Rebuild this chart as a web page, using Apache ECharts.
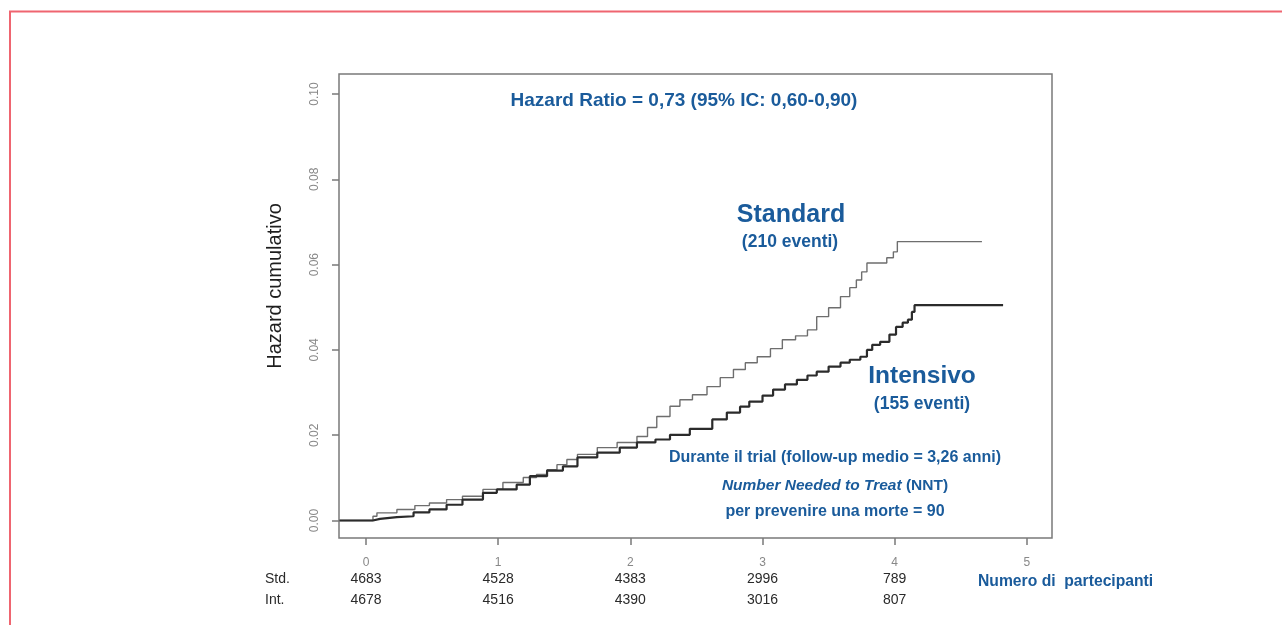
<!DOCTYPE html>
<html>
<head>
<meta charset="utf-8">
<script src="https://cdn.jsdelivr.net/npm/echarts@6/dist/echarts.min.js"></script>
<style>
html,body{margin:0;padding:0;background:#fff;}
#c{width:1282px;height:625px;}
</style>
</head>
<body>
<div id="c"></div>
<script>
// ---- data ----
const xTicks = [0, 1, 2, 3, 4, 5];
const yTicks = [0, 0.02, 0.04, 0.06, 0.08, 0.10];
const riskTimes = [0, 1, 2, 3, 4];
const stdAtRisk = [4683, 4528, 4383, 2996, 789];
const intAtRisk = [4678, 4516, 4390, 3016, 807];

const stdTime = [-0.2, 0.053, 0.083, 0.234, 0.37, 0.48, 0.61, 0.73, 0.885, 1.036, 1.19, 1.29, 1.37, 1.445, 1.52, 1.6, 1.75, 1.9, 2.05, 2.13, 2.2, 2.3, 2.375, 2.47, 2.58, 2.68, 2.78, 2.87, 2.96, 3.06, 3.15, 3.25, 3.34, 3.41, 3.5, 3.59, 3.66, 3.71, 3.75, 3.79, 3.94, 3.99, 4.02, 4.66];
const stdHaz  = [0, 0.0010, 0.0018, 0.0026, 0.0035, 0.0041, 0.0049, 0.0057, 0.0073, 0.0089, 0.0101, 0.0108, 0.0119, 0.0131, 0.0143, 0.0155, 0.0171, 0.0183, 0.0197, 0.0218, 0.0244, 0.0268, 0.0283, 0.0295, 0.0314, 0.0335, 0.0354, 0.0370, 0.0384, 0.0403, 0.0424, 0.0433, 0.0447, 0.0478, 0.0499, 0.0525, 0.0546, 0.0564, 0.0583, 0.0604, 0.0616, 0.0630, 0.0654, 0.0654];

const intTime = [-0.2, 0.053, 0.106, 0.234, 0.36, 0.48, 0.61, 0.73, 0.885, 0.99, 1.14, 1.24, 1.37, 1.49, 1.6, 1.75, 1.92, 2.05, 2.19, 2.3, 2.45, 2.62, 2.73, 2.83, 2.9, 3.0, 3.08, 3.17, 3.26, 3.34, 3.41, 3.5, 3.59, 3.66, 3.74, 3.79, 3.83, 3.89, 3.96, 4.01, 4.06, 4.1, 4.13, 4.15, 4.82];
const intHaz  = [0, 0.0004, 0.0008, 0.0010, 0.0019, 0.0026, 0.0037, 0.0049, 0.0065, 0.0073, 0.0084, 0.0104, 0.0117, 0.0127, 0.0148, 0.0159, 0.0171, 0.0183, 0.0190, 0.0201, 0.0215, 0.0237, 0.0253, 0.0267, 0.0279, 0.0293, 0.0307, 0.0319, 0.0330, 0.0340, 0.0349, 0.0361, 0.0370, 0.0377, 0.0384, 0.0400, 0.0412, 0.0419, 0.0436, 0.0454, 0.0464, 0.0471, 0.0489, 0.0505, 0.0505];

// ---- styles ----
const BLUE = '#1a5b9b';
const SANS = '"Liberation Sans", Arial, sans-serif';
const AX = '#7a7a7a';

const chart = echarts.init(document.getElementById('c'), null, {renderer: 'canvas'});

function zip(a, b) { return a.map((t, i) => [t, b[i]]); }

const option = {
  backgroundColor: '#fff',
  animation: false,
  grid: { left: 339, top: 74, width: 713, height: 464, show: true, borderColor: AX, borderWidth: 1.5, backgroundColor: 'transparent' },
  xAxis: [
    {
      type: 'value', min: -0.204, max: 5.19, position: 'bottom',
      axisLine: { show: false, onZero: false },
      splitLine: { show: false },
      axisTick: { show: true, customValues: xTicks, length: 7, lineStyle: { color: AX, width: 1.5 } },
      axisLabel: { customValues: xTicks, margin: 19, color: '#888', fontSize: 12, fontFamily: SANS }
    },
    {
      type: 'value', min: -0.204, max: 5.19, position: 'bottom', offset: 34,
      axisLine: { show: false, onZero: false }, splitLine: { show: false }, axisTick: { show: false },
      axisLabel: { customValues: riskTimes, margin: 0, color: '#2a2a2a', fontSize: 14, fontFamily: SANS,
        formatter: v => { const i = riskTimes.indexOf(Math.round(v)); return i >= 0 ? String(stdAtRisk[i]) : ''; } }
    },
    {
      type: 'value', min: -0.204, max: 5.19, position: 'bottom', offset: 55,
      axisLine: { show: false, onZero: false }, splitLine: { show: false }, axisTick: { show: false },
      axisLabel: { customValues: riskTimes, margin: 0, color: '#2a2a2a', fontSize: 14, fontFamily: SANS,
        formatter: v => { const i = riskTimes.indexOf(Math.round(v)); return i >= 0 ? String(intAtRisk[i]) : ''; } }
    }
  ],
  yAxis: {
    type: 'value', min: -0.0041, max: 0.1047,
    axisLine: { show: false, onZero: false },
    splitLine: { show: false },
    axisTick: { show: true, customValues: yTicks, length: 7, lineStyle: { color: AX, width: 1.5 } },
    axisLabel: { customValues: yTicks, rotate: 90, margin: 18, color: '#888', fontSize: 12, fontFamily: SANS,
      formatter: v => v.toFixed(2) }
  },
  series: [
    {
      name: 'Standard', type: 'line', step: 'end', showSymbol: false, xAxisIndex: 0,
      data: zip(stdTime, stdHaz),
      lineStyle: { color: '#6e6e6e', width: 1.4 }
    },
    {
      name: 'Intensivo', type: 'line', step: 'end', showSymbol: false, xAxisIndex: 0,
      data: zip(intTime, intHaz),
      lineStyle: { color: '#2b2b2b', width: 2.2 }
    }
  ],
  graphic: [
    { type: 'rect', shape: { x: 10, y: 11.5, width: 1400, height: 800 }, style: { fill: 'none', stroke: '#ef6570', lineWidth: 2 }, silent: true },
    { type: 'text', x: 275, y: 286, rotation: Math.PI / 2, style: { text: 'Hazard cumulativo', fill: '#1e1e1e', font: '20px ' + SANS, align: 'center', verticalAlign: 'middle' } },
    { type: 'text', x: 684, y: 101, style: { text: 'Hazard Ratio = 0,73 (95% IC: 0,60-0,90)', fill: BLUE, font: 'bold 19px ' + SANS, align: 'center', verticalAlign: 'middle' } },
    { type: 'text', x: 791, y: 215, style: { text: 'Standard', fill: BLUE, font: 'bold 25px ' + SANS, align: 'center', verticalAlign: 'middle' } },
    { type: 'text', x: 790, y: 242, style: { text: '(210 eventi)', fill: BLUE, font: 'bold 17.5px ' + SANS, align: 'center', verticalAlign: 'middle' } },
    { type: 'text', x: 922, y: 376, style: { text: 'Intensivo', fill: BLUE, font: 'bold 24.5px ' + SANS, align: 'center', verticalAlign: 'middle' } },
    { type: 'text', x: 922, y: 404, style: { text: '(155 eventi)', fill: BLUE, font: 'bold 17.5px ' + SANS, align: 'center', verticalAlign: 'middle' } },
    { type: 'text', x: 835, y: 458, style: { text: 'Durante il trial (follow-up medio = 3,26 anni)', fill: BLUE, font: 'bold 16px ' + SANS, align: 'center', verticalAlign: 'middle' } },
    { type: 'text', x: 835, y: 486, style: { text: '{i|Number Needed to Treat} (NNT)', fill: BLUE, font: 'bold 15.5px ' + SANS, align: 'center', verticalAlign: 'middle',
        rich: { i: { fill: BLUE, font: 'italic bold 15.5px ' + SANS } } } },
    { type: 'text', x: 835, y: 512, style: { text: 'per prevenire una morte = 90', fill: BLUE, font: 'bold 16px ' + SANS, align: 'center', verticalAlign: 'middle' } },
    { type: 'text', x: 978, y: 582, style: { text: 'Numero di  partecipanti', fill: BLUE, font: 'bold 15.7px ' + SANS, align: 'left', verticalAlign: 'middle' } },
    { type: 'text', x: 265, y: 579, style: { text: 'Std.', fill: '#2a2a2a', font: '14px ' + SANS, align: 'left', verticalAlign: 'middle' } },
    { type: 'text', x: 265, y: 600, style: { text: 'Int.', fill: '#2a2a2a', font: '14px ' + SANS, align: 'left', verticalAlign: 'middle' } }
  ]
};
chart.setOption(option);
</script>
</body>
</html>
